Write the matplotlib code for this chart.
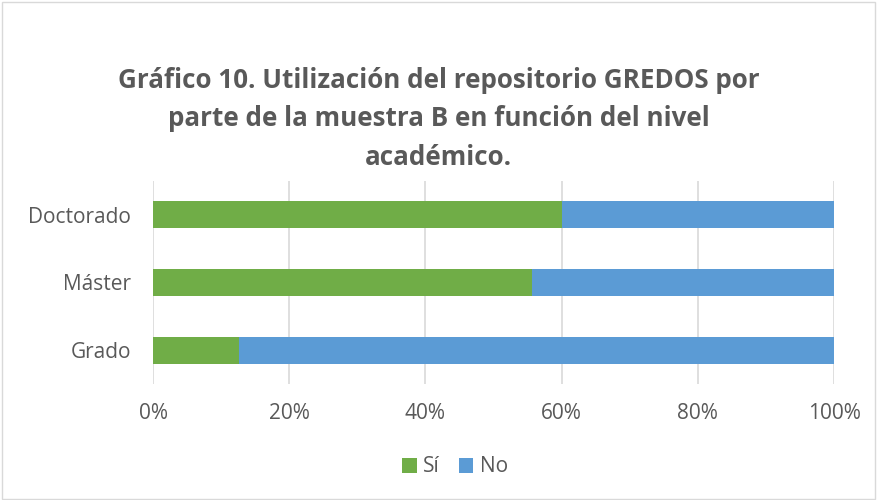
import numpy as np
import matplotlib.pyplot as plt
from matplotlib.patches import Rectangle

# Data (share of each level)
categories = ['Grado', 'Máster', 'Doctorado']
si_values = [0.127, 0.556, 0.60]
no_values = [0.873, 0.444, 0.40]
series_names = ['Sí', 'No']
colors = ['#70AD47', '#5B9BD5']
xticks = [0, 0.2, 0.4, 0.6, 0.8, 1.0]
xtick_labels = ['0%', '20%', '40%', '60%', '80%', '100%']
title = 'Gráfico 10. Utilización del repositorio GREDOS por\nparte de la muestra B en función del nivel\nacadémico.'

plt.rcParams['font.family'] = ['Open Sans', 'DejaVu Sans']
text_color = '#595959'

fig = plt.figure(figsize=(8.77, 5.0), dpi=100)
ax = fig.add_axes([153 / 877, 1 - 384 / 500, 681 / 877, 203 / 500])

y = np.arange(len(categories))
ax.barh(y, si_values, height=0.4, color=colors[0], label=series_names[0], zorder=3)
ax.barh(y, no_values, left=si_values, height=0.4, color=colors[1], label=series_names[1], zorder=3)

ax.set_xlim(0, 1)
ax.set_ylim(-0.5, len(categories) - 0.5)
ax.set_xticks(xticks)
ax.set_xticklabels(xtick_labels)
ax.set_yticks(y)
ax.set_yticklabels(categories)
ax.grid(axis='x', color='#D9D9D9', linewidth=1.2, zorder=0)
for s in ax.spines.values():
    s.set_visible(False)
ax.tick_params(length=0, labelsize=15, colors=text_color)
ax.tick_params(axis='x', pad=14)
ax.tick_params(axis='y', pad=16)

fig.text(0.5, 1 - 119 / 500, title, ha='center', va='center', fontsize=18.7, fontweight='bold',
         color=text_color, linespacing=1.55)

fig.legend(loc='center', bbox_to_anchor=(455 / 877, 1 - 467 / 500), ncol=2, frameon=False,
           fontsize=15, handlelength=0.7, handleheight=0.7, handletextpad=0.3, columnspacing=0.9,
           labelcolor=text_color)

# light border around the whole chart
fig.patches.append(Rectangle((0.002, 0.003), 0.996, 0.994, transform=fig.transFigure,
                             fill=False, edgecolor='#D9D9D9', linewidth=1))

fig.savefig('out.png', dpi=100)
